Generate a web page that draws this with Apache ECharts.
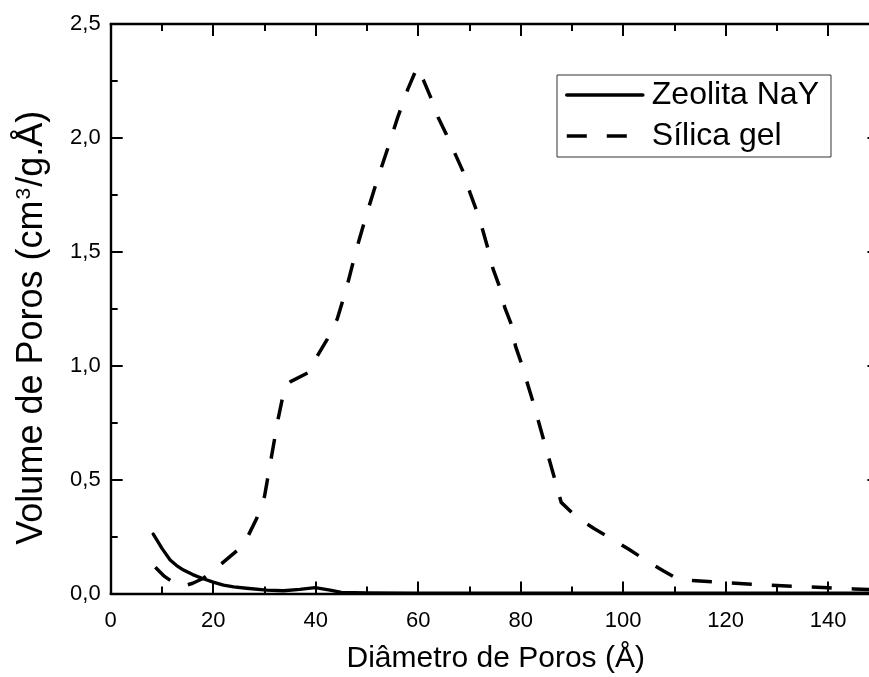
<!DOCTYPE html>
<html>
<head>
<meta charset="utf-8">
<script src="https://cdn.jsdelivr.net/npm/echarts@6/dist/echarts.min.js"></script>
<style>
  html, body { margin: 0; padding: 0; background: #fff; }
  #chart { width: 869px; height: 677px; }
</style>
</head>
<body>
<div id="chart"></div>
<script>
// Pore size distribution: pore volume vs. pore diameter
const seriesNames = ['Zeolita NaY', 'Sílica gel'];

// Zeolita NaY (solid line): [diameter Å, volume]
const zeolitaX = [8.3, 9.0, 10.0, 11.6, 12.8, 14.2, 16.0, 17.8, 20.0, 22.0, 24.0, 26.5, 30.4, 33.7, 36.9, 39.9, 42.8, 45.0, 50.0, 60.0, 70.0, 80.0, 90.0, 100.0, 110.0, 120.0, 130.0, 140.0, 150.0];
const zeolitaY = [0.261, 0.235, 0.198, 0.147, 0.124, 0.103, 0.083, 0.067, 0.050, 0.037, 0.029, 0.023, 0.015, 0.012, 0.018, 0.026, 0.015, 0.005, 0.003, 0.002, 0.002, 0.002, 0.002, 0.002, 0.002, 0.002, 0.002, 0.002, 0.002];

// Sílica gel (dashed line): [diameter Å, volume]
const silicaX = [8.7, 10.5, 13.5, 16.0, 18.1, 21.7, 24.6, 26.9, 28.5, 30.0, 31.6, 32.7, 34.0, 35.1, 38.6, 40.5, 42.3, 44.2, 46.0, 48.0, 50.0, 52.0, 54.0, 56.0, 58.0, 59.8, 61.0, 62.4, 63.9, 65.5, 67.2, 68.8, 70.1, 71.4, 72.6, 73.6, 74.6, 75.9, 76.9, 78.2, 79.0, 80.3, 81.4, 82.5, 83.6, 84.6, 85.8, 86.8, 87.9, 90.8, 94.3, 97.4, 101.1, 104.2, 107.8, 110.9, 115.0, 120.0, 125.0, 130.0, 135.0, 140.0, 145.0, 150.0];
const silicaY = [0.115, 0.075, 0.028, 0.045, 0.067, 0.132, 0.187, 0.257, 0.330, 0.425, 0.630, 0.770, 0.910, 0.930, 0.970, 1.050, 1.118, 1.205, 1.340, 1.515, 1.670, 1.815, 1.950, 2.090, 2.215, 2.310, 2.255, 2.180, 2.090, 2.015, 1.930, 1.850, 1.760, 1.680, 1.595, 1.515, 1.425, 1.345, 1.255, 1.180, 1.085, 1.000, 0.915, 0.835, 0.745, 0.665, 0.570, 0.490, 0.400, 0.337, 0.285, 0.245, 0.194, 0.149, 0.100, 0.060, 0.055, 0.048, 0.041, 0.035, 0.030, 0.025, 0.020, 0.016];

// Axis ranges and tick steps
const xMin = 0, xMax = 160, xStep = 20;
const yMin = 0, yMax = 2.5, yStep = 0.5;

const xTitle = 'Diâmetro de Poros (Å)';
const yTitleParts = ['Volume de Poros (cm', '3', '/g.Å)'];

const FONT = '"Liberation Sans", Arial, sans-serif';

function pairs(xs, ys) {
  return xs.map((x, i) => [x, ys[i]]);
}

const axisLine = { show: true, onZero: false, lineStyle: { color: '#000', width: 2.4 } };
const majorTick = { show: true, inside: true, length: 12, lineStyle: { color: '#000', width: 2 } };
const minorTick = { show: true, splitNumber: 2, length: 7, lineStyle: { color: '#000', width: 2 } };

const chart = echarts.init(document.getElementById('chart'), null, { renderer: 'canvas' });

chart.setOption({
  backgroundColor: '#fff',
  animation: false,
  grid: {
    left: 110.7,
    top: 24,
    right: -61.7,
    bottom: 83.5,
    containLabel: false,
    outerBoundsMode: 'none'
  },
  legend: {
    data: seriesNames,
    orient: 'vertical',
    left: 557,
    top: 75,
    itemWidth: 76,
    itemHeight: 30,
    itemGap: 9,
    padding: [4, 12, 5, 8],
    backgroundColor: '#fff',
    borderColor: '#333',
    borderWidth: 1,
    borderRadius: 0,
    selectedMode: false,
    itemStyle: { opacity: 0 },
    lineStyle: { width: 3.6 },
    textStyle: { color: '#000', fontFamily: FONT, fontSize: 32, lineHeight: 32, padding: [0, 0, 0, 4] }
  },
  xAxis: [
    {
      type: 'value',
      position: 'bottom',
      min: xMin, max: xMax, interval: xStep,
      axisLine: axisLine,
      axisTick: majorTick,
      minorTick: minorTick,
      splitLine: { show: false },
      axisLabel: {
        color: '#000', fontFamily: FONT, fontSize: 22, margin: 16,
        showMaxLabel: false
      },
      name: xTitle,
      nameLocation: 'middle',
      nameGap: 50,
      nameTextStyle: { color: '#000', fontFamily: FONT, fontSize: 30, padding: [0, 50, 0, 0] }
    },
    {
      type: 'value',
      position: 'top',
      min: xMin, max: xMax, interval: xStep,
      axisLine: axisLine,
      axisTick: majorTick,
      minorTick: minorTick,
      splitLine: { show: false },
      axisLabel: { show: false }
    }
  ],
  yAxis: [
    {
      type: 'value',
      position: 'left',
      min: yMin, max: yMax, interval: yStep,
      axisLine: axisLine,
      axisTick: majorTick,
      minorTick: minorTick,
      splitLine: { show: false },
      axisLabel: {
        color: '#000', fontFamily: FONT, fontSize: 22, margin: 10,
        formatter: v => v.toFixed(1).replace('.', ',')
      },
      name: '{t|' + yTitleParts[0] + '}{s|' + yTitleParts[1] + '}{t|' + yTitleParts[2] + '}',
      nameLocation: 'middle',
      nameGap: 60,
      nameTextStyle: {
        color: '#000', fontFamily: FONT, fontSize: 36,
        padding: [0, 38, 0, 0],
        rich: {
          t: { color: '#000', fontFamily: FONT, fontSize: 36 },
          s: { color: '#000', fontFamily: FONT, fontSize: 21, verticalAlign: 'top', padding: [0, 1, 16, 1] }
        }
      }
    },
    {
      type: 'value',
      position: 'right',
      offset: -51.25,
      min: yMin, max: yMax, interval: yStep,
      axisLine: axisLine,
      axisTick: majorTick,
      minorTick: minorTick,
      splitLine: { show: false },
      axisLabel: { show: false }
    }
  ],
  series: [
    {
      name: seriesNames[0],
      type: 'line',
      data: pairs(zeolitaX, zeolitaY),
      showSymbol: false,
      symbol: 'none',
      lineStyle: { color: '#000', width: 3.3, type: 'solid', cap: 'round', join: 'round' },
      itemStyle: { color: '#000' },
      z: 3
    },
    {
      name: seriesNames[1],
      type: 'line',
      data: pairs(silicaX, silicaY),
      showSymbol: false,
      symbol: 'none',
      lineStyle: { color: '#000', width: 3.5, type: [20, 20], cap: 'butt', join: 'round' },
      itemStyle: { color: '#000' },
      z: 3
    }
  ]
});
</script>
</body>
</html>
